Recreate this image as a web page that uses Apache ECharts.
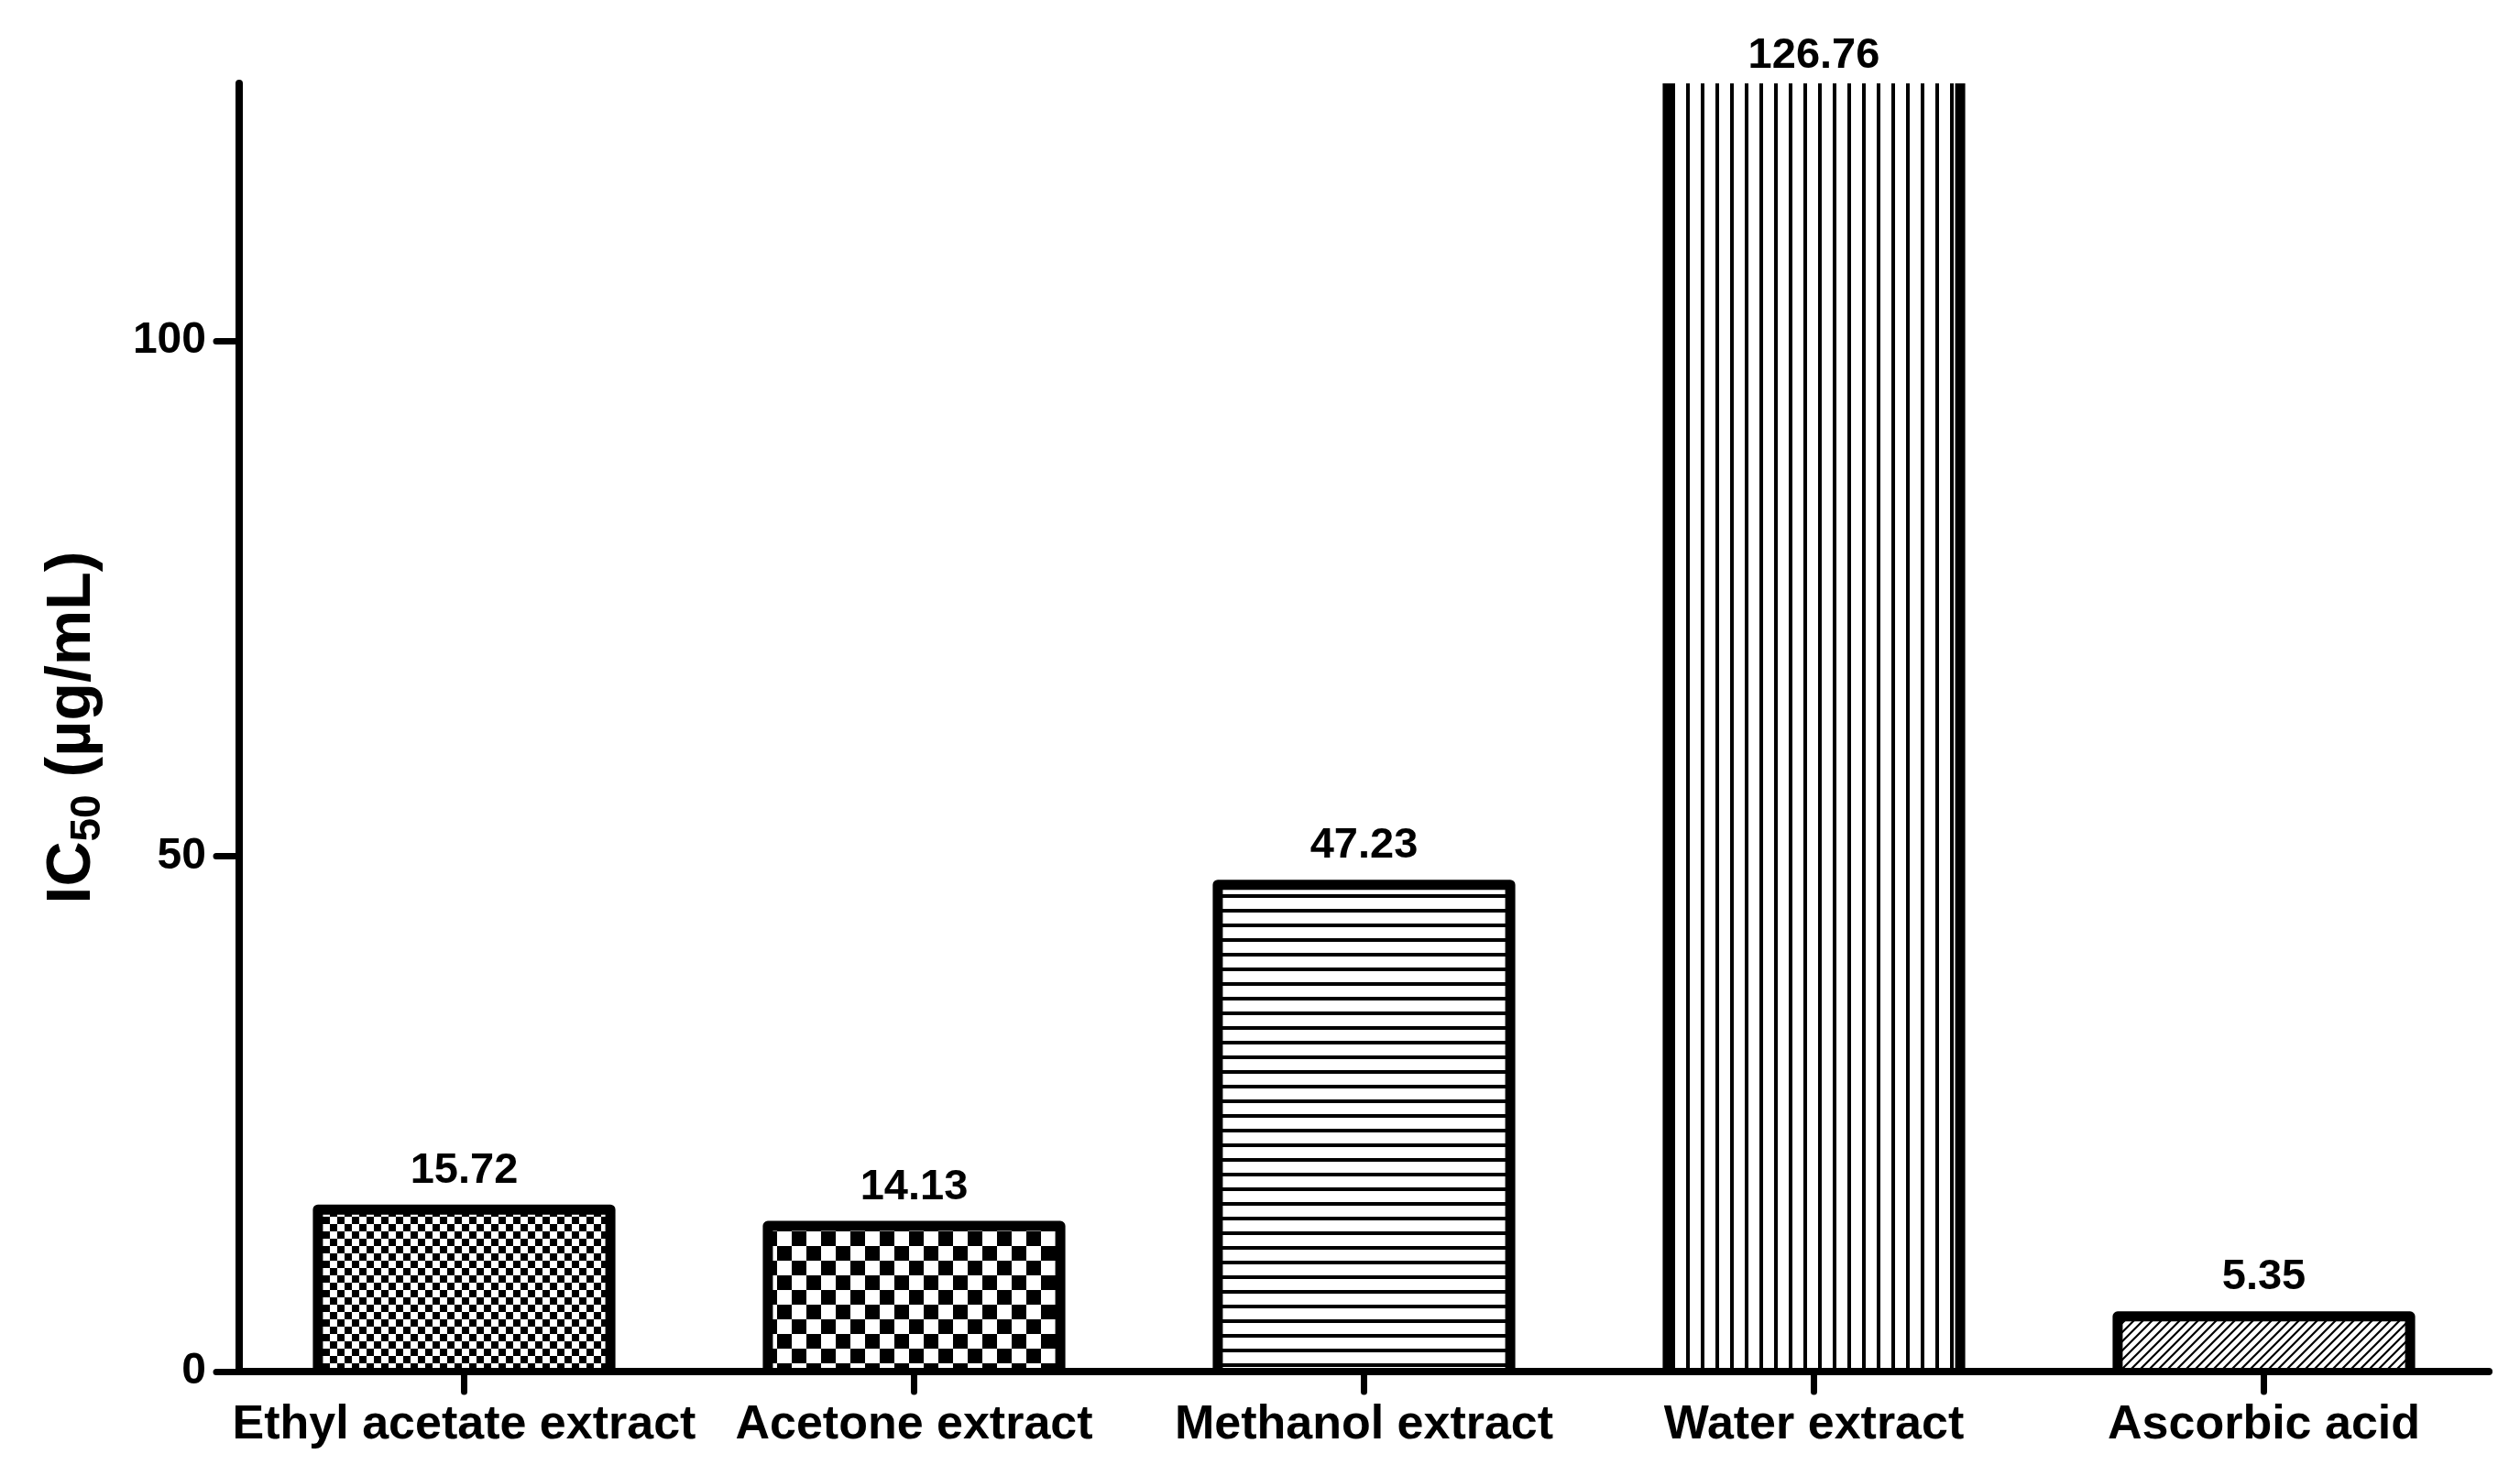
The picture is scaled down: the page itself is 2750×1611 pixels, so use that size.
<!DOCTYPE html>
<html><head><meta charset="utf-8">
<script src="https://cdn.jsdelivr.net/npm/echarts@6/dist/echarts.min.js"></script>
<style>html,body{margin:0;padding:0;background:#fff}#c{width:2750px;height:1611px}</style>
</head><body><div id="c"></div>
<script>
const categories = ['Ethyl acetate extract', 'Acetone extract', 'Methanol extract', 'Water extract', 'Ascorbic acid'];
const ic50Values = [15.72, 14.13, 47.23, 126.76, 5.35];
const valueLabels = ['15.72', '14.13', '47.23', '126.76', '5.35'];
const yTickValues = [0, 50, 100];
const yAxisMax = 125;
const patternKinds = ['fineChecker', 'coarseChecker', 'hLines', 'vLines', 'diagonal'];

const FONT = '"Liberation Sans", Arial, Helvetica, sans-serif';
const BAR_RATIO = 0.65;

function makePattern(kind) {
  const c = document.createElement('canvas');
  let ctx;
  if (kind === 'fineChecker' || kind === 'coarseChecker') {
    const q = kind === 'fineChecker' ? 8 : 16;
    c.width = c.height = q * 2;
    ctx = c.getContext('2d');
    ctx.fillStyle = '#fff'; ctx.fillRect(0, 0, q * 2, q * 2);
    ctx.fillStyle = '#000'; ctx.fillRect(0, 0, q, q); ctx.fillRect(q, q, q, q);
  } else if (kind === 'hLines') {
    c.width = c.height = 16; ctx = c.getContext('2d');
    ctx.fillStyle = '#fff'; ctx.fillRect(0, 0, 16, 16);
    ctx.fillStyle = '#000'; ctx.fillRect(0, 0, 16, 4);
  } else if (kind === 'vLines') {
    c.width = c.height = 16; ctx = c.getContext('2d');
    ctx.fillStyle = '#fff'; ctx.fillRect(0, 0, 16, 16);
    ctx.fillStyle = '#000'; ctx.fillRect(0, 0, 4, 16);
  } else {
    const s = 10;
    c.width = c.height = s; ctx = c.getContext('2d');
    ctx.fillStyle = '#fff'; ctx.fillRect(0, 0, s, s);
    ctx.strokeStyle = '#000'; ctx.lineWidth = 2.2;
    ctx.beginPath();
    ctx.moveTo(0, s); ctx.lineTo(s, 0);
    ctx.moveTo(-s / 2, s / 2); ctx.lineTo(s / 2, -s / 2);
    ctx.moveTo(s / 2, s * 1.5); ctx.lineTo(s * 1.5, s / 2);
    ctx.stroke();
  }
  return c;
}

const chart = echarts.init(document.getElementById('c'), null, { renderer: 'canvas' });

const barData = ic50Values.map((v, i) => {
  const item = {
    value: v,
    itemStyle: { color: { image: makePattern(patternKinds[i]), repeat: 'repeat' } }
  };
  // bars taller than the axis are clipped; their label sits a little closer to the clipped top
  if (v > yAxisMax) item.label = { distance: 6 };
  return item;
});
const borderData = ic50Values.map((v, i) => [i, v]);

chart.setOption({
  backgroundColor: '#fff',
  animation: false,
  grid: { left: 261, right: 34, top: 91, bottom: 114, containLabel: false },
  xAxis: {
    type: 'category',
    data: categories,
    z: 10,
    axisLine: { show: true, lineStyle: { color: '#000', width: 8, cap: 'round' } },
    axisTick: { show: true, alignWithLabel: true, length: 22, lineStyle: { color: '#000', width: 7, cap: 'round' } },
    axisLabel: { interval: 0, margin: 33, color: '#000', fontFamily: FONT, fontWeight: 'bold', fontSize: 52 }
  },
  yAxis: {
    type: 'value',
    min: 0, max: yAxisMax, interval: 50,
    z: 10,
    name: '{a|IC}{b|50}{a| (µg/mL)}',
    nameLocation: 'middle',
    nameRotate: 90,
    nameGap: 142,
    nameTextStyle: {
      rich: {
        a: { fontFamily: FONT, fontWeight: 'bold', fontSize: 68, color: '#000', lineHeight: 80, verticalAlign: 'middle' },
        b: { fontFamily: FONT, fontWeight: 'bold', fontSize: 46, color: '#000', lineHeight: 80, verticalAlign: 'bottom' }
      }
    },
    splitLine: { show: false },
    axisLine: { show: true, lineStyle: { color: '#000', width: 8, cap: 'round' } },
    axisTick: { show: true, length: 25, customValues: yTickValues, lineStyle: { color: '#000', width: 7, cap: 'round' } },
    axisLabel: { customValues: yTickValues, margin: 36, color: '#000', fontFamily: FONT, fontWeight: 'bold', fontSize: 48 }
  },
  series: [
    {
      type: 'bar',
      data: barData,
      barWidth: (BAR_RATIO * 100) + '%',
      clip: true,
      itemStyle: { borderWidth: 0 },
      label: {
        show: true, position: 'top', distance: 19,
        formatter: p => valueLabels[p.dataIndex],
        color: '#000', fontFamily: FONT, fontWeight: 'bold', fontSize: 47
      },
      z: 2
    },
    {
      type: 'custom',
      data: borderData,
      clip: true,
      z: 3,
      renderItem: function (params, api) {
        const xi = api.value(0), v = api.value(1);
        const base = api.coord([xi, 0]);
        const top = api.coord([xi, v]);
        const w = api.size([1, 0])[0] * BAR_RATIO;
        const l = base[0] - w / 2, r = base[0] + w / 2;
        return {
          type: 'polyline',
          shape: { points: [[l, base[1]], [l, top[1]], [r, top[1]], [r, base[1]]] },
          style: { stroke: '#000', lineWidth: 11, fill: null, lineJoin: 'round', lineCap: 'butt' }
        };
      }
    }
  ]
});
</script>
</body></html>
